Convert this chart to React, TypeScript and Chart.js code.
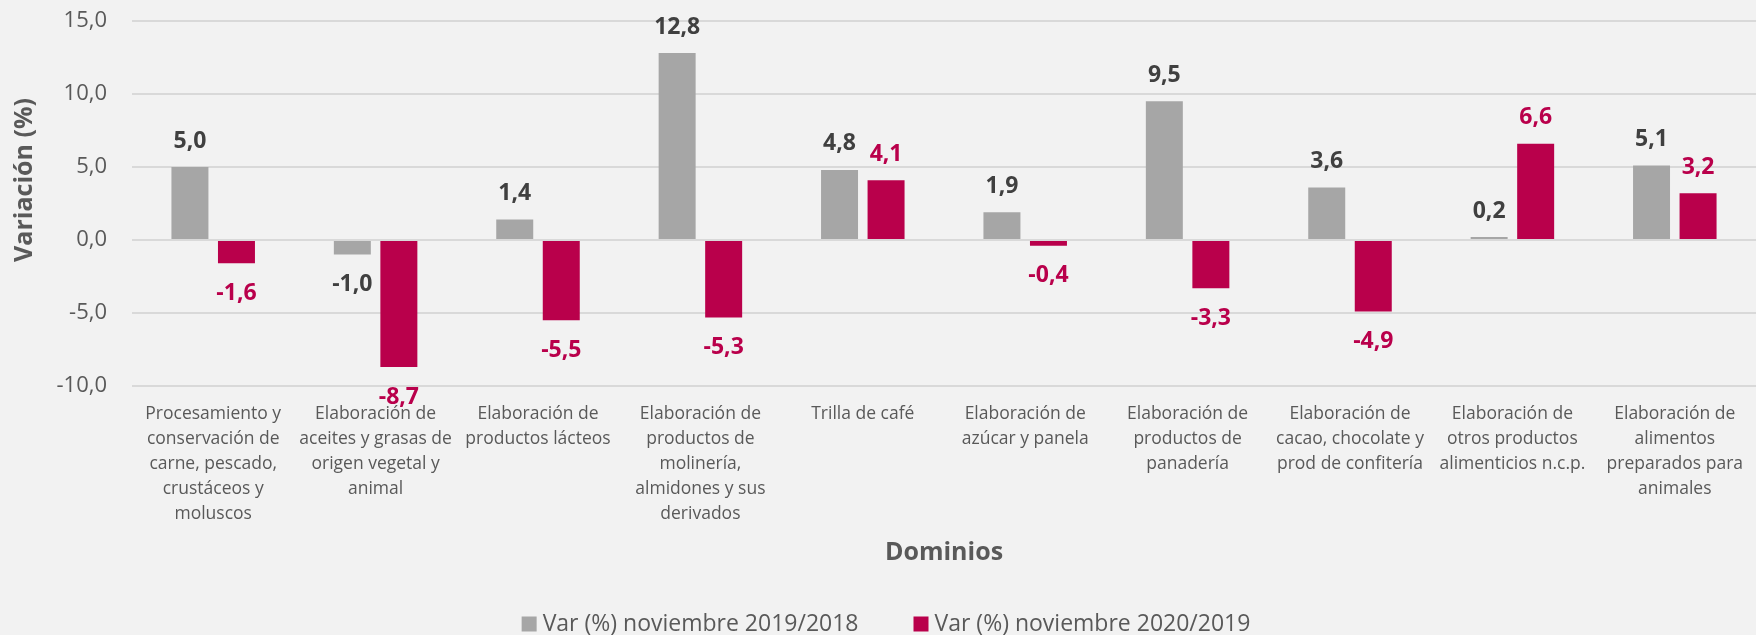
import React, { useEffect, useRef } from 'react';
import { Chart, registerables } from 'chart.js';

Chart.register(...registerables);

const categories: string[][] = [
  ['Procesamiento y', 'conservación de', 'carne, pescado,', 'crustáceos y', 'moluscos'],
  ['Elaboración de', 'aceites y grasas de', 'origen vegetal y', 'animal'],
  ['Elaboración de', 'productos lácteos'],
  ['Elaboración de', 'productos de', 'molinería,', 'almidones y sus', 'derivados'],
  ['Trilla de café'],
  ['Elaboración de', 'azúcar y panela'],
  ['Elaboración de', 'productos de', 'panadería'],
  ['Elaboración de', 'cacao, chocolate y', 'prod de confitería'],
  ['Elaboración de', 'otros productos', 'alimenticios n.c.p.'],
  ['Elaboración de', 'alimentos', 'preparados para', 'animales'],
];

const var2019: number[] = [5.0, -1.0, 1.4, 12.8, 4.8, 1.9, 9.5, 3.6, 0.2, 5.1];
const var2020: number[] = [-1.6, -8.7, -5.5, -5.3, 4.1, -0.4, -3.3, -4.9, 6.6, 3.2];

const seriesNames: string[] = ['Var (%) noviembre 2019/2018', 'Var (%) noviembre 2020/2019'];
const seriesColors: string[] = ['#a6a6a6', '#b9004b'];
const labelColors: string[] = ['#404040', '#b9004b'];

const yMin = -10;
const yMax = 15;
const yStep = 5;
const yTitle = 'Variación (%)';
const xTitle = 'Dominios';

const FONT = '"Open Sans", "Noto Sans", sans-serif';
const fmt = (v: number) => v.toFixed(1).replace('.', ',');

const bgPlugin = {
  id: 'bg',
  beforeDraw(chart: any) {
    const { ctx, width, height } = chart;
    ctx.save();
    ctx.fillStyle = '#f2f2f2';
    ctx.fillRect(0, 0, width, height);
    ctx.restore();
  },
};

const dataLabelPlugin = {
  id: 'dataLabels',
  afterDatasetsDraw(chart: any) {
    const { ctx } = chart;
    ctx.save();
    ctx.font = `bold 23px ${FONT}`;
    ctx.textAlign = 'center';
    ctx.textBaseline = 'middle';
    chart.data.datasets.forEach((ds: any, i: number) => {
      const meta = chart.getDatasetMeta(i);
      ctx.fillStyle = labelColors[i];
      meta.data.forEach((bar: any, j: number) => {
        const v = ds.data[j] as number;
        const y = v >= 0 ? bar.y - 26 : bar.y + 30;
        ctx.fillText(fmt(v), bar.x, y);
      });
    });
    ctx.restore();
  },
};

const yTitlePlugin = {
  id: 'yTitle',
  afterDraw(chart: any) {
    const { ctx } = chart;
    ctx.save();
    ctx.translate(25, 180);
    ctx.rotate(-Math.PI / 2);
    ctx.font = `bold 25px ${FONT}`;
    ctx.fillStyle = '#595959';
    ctx.textAlign = 'center';
    ctx.textBaseline = 'middle';
    ctx.fillText(yTitle, 0, 0);
    ctx.restore();
  },
};

const legendPlugin = {
  id: 'customLegend',
  afterDraw(chart: any) {
    const { ctx, width } = chart;
    ctx.save();
    ctx.font = `23px ${FONT}`;
    ctx.textBaseline = 'middle';
    ctx.textAlign = 'left';
    const box = 15;
    const gapBox = 6;
    const gapItem = 55;
    const items = chart.data.datasets.map((ds: any) => ({
      text: ds.label as string,
      color: ds.backgroundColor as string,
      w: ctx.measureText(ds.label).width,
    }));
    const total = items.reduce((s: number, it: any) => s + box + gapBox + it.w, 0) + gapItem * (items.length - 1);
    let x = width / 2 - total / 2 + 8;
    const cy = 624;
    items.forEach((it: any) => {
      ctx.fillStyle = it.color;
      ctx.fillRect(x, cy - box / 2, box, box);
      x += box + gapBox;
      ctx.fillStyle = '#595959';
      ctx.fillText(it.text, x, cy);
      x += it.w + gapItem;
    });
    ctx.restore();
  },
};

export default function App() {
  const ref = useRef<HTMLCanvasElement | null>(null);

  useEffect(() => {
    document.body.style.margin = '0';
    document.body.style.background = '#f2f2f2';
    if (!ref.current) return;
    const chart = new Chart(ref.current, {
      type: 'bar',
      data: {
        labels: categories,
        datasets: [
          {
            label: seriesNames[0],
            data: var2019,
            backgroundColor: seriesColors[0],
            barPercentage: 0.795,
            categoryPercentage: 0.573,
          },
          {
            label: seriesNames[1],
            data: var2020,
            backgroundColor: seriesColors[1],
            barPercentage: 0.795,
            categoryPercentage: 0.573,
          },
        ],
      },
      options: {
        responsive: false,
        animation: false,
        layout: { padding: { top: 21, right: 0, left: 0, bottom: 67 } },
        plugins: {
          legend: { display: false },
          tooltip: { enabled: false },
        },
        scales: {
          x: {
            grid: { display: false, drawTicks: false },
            border: { display: false },
            ticks: {
              color: '#595959',
              font: { family: FONT, size: 17.5, lineHeight: '25px' },
              padding: 16,
              maxRotation: 0,
              minRotation: 0,
              autoSkip: false,
            },
            title: {
              display: true,
              text: xTitle,
              color: '#595959',
              font: { family: FONT, size: 25, weight: 'bold', lineHeight: '30px' },
              padding: { top: 0, bottom: 0 },
            },
            afterFit: (s: any) => {
              s.height = 182;
              s.paddingLeft = 0;
              s.paddingRight = 0;
            },
          },
          y: {
            min: yMin,
            max: yMax,
            ticks: {
              stepSize: yStep,
              color: '#595959',
              font: { family: FONT, size: 22 },
              padding: 25,
              callback: (v: any) => fmt(Number(v)),
            },
            grid: { color: '#d9d9d9', lineWidth: 2, drawTicks: false },
            border: { display: false },
            afterFit: (s: any) => {
              s.width = 132;
              s.paddingTop = 0;
              s.paddingBottom = 0;
            },
          },
        },
      },
      plugins: [bgPlugin, dataLabelPlugin, yTitlePlugin, legendPlugin],
    } as any);
    return () => chart.destroy();
  }, []);

  return (
    <div style={{ width: 1756, height: 635, background: '#f2f2f2' }}>
      <canvas ref={ref} width={1756} height={635} />
    </div>
  );
}
